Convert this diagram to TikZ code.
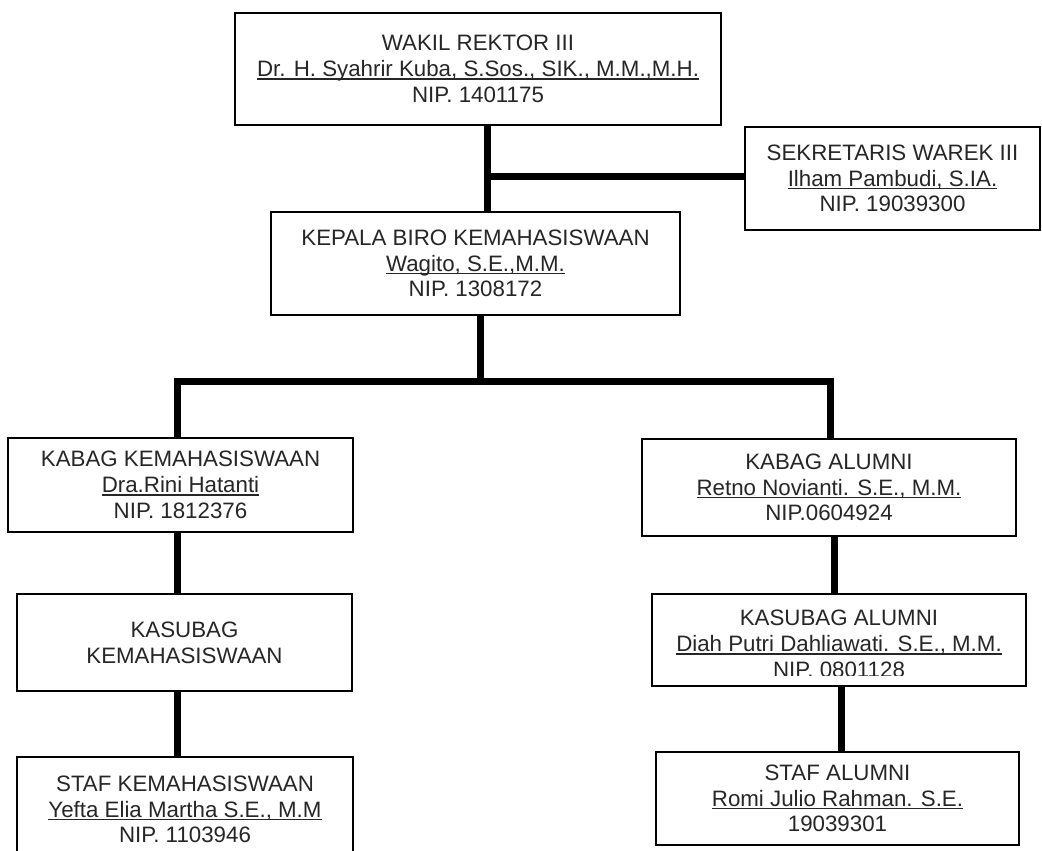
\documentclass[tikz,border=0pt]{standalone}
\usepackage{fontspec}
\setmainfont{Liberation Sans}
\newcommand\uln[1]{\setbox0\hbox{#1}\rlap{\rule[-3.2pt]{\wd0}{1.5pt}}\box0}
\begin{document}
\begin{tikzpicture}[x=1pt,y=-1pt,
  txt/.style={inner sep=0pt, align=center, font=\fontsize{22.3}{25.8}\selectfont, text=black!85},
  box/.style={txt, draw=black, line width=2.4pt, fill=white},
  conn/.style={line width=7pt, line join=miter}]
\useasboundingbox (0,0) rectangle (1042,851);
\fill[white] (0,0) rectangle (1042,851);

\node[box, minimum width=486pt, minimum height=112pt] (b1) at (478,69)
  {WAKIL REKTOR III\\\uln{Dr. H. Syahrir Kuba, S.Sos., SIK., M.M.,M.H.}\\NIP. 1401175};
\node[box, minimum width=295pt, minimum height=103pt] (sek) at (892.5,178.5)
  {SEKRETARIS WAREK III\\\uln{Ilham Pambudi, S.IA.}\\NIP. 19039300};
\node[box, minimum width=409pt, minimum height=103pt] (kep) at (475.5,263.5)
  {KEPALA BIRO KEMAHASISWAAN\\\uln{Wagito, S.E.,M.M.}\\NIP. 1308172};
\node[box, minimum width=345pt, minimum height=94pt] (kabkem) at (180.5,485)
  {KABAG KEMAHASISWAAN\\\uln{Dra.Rini Hatanti}\\NIP. 1812376};
\node[box, minimum width=374pt, minimum height=97pt] (kabal) at (829,487.5)
  {KABAG ALUMNI\\\uln{Retno Novianti. S.E., M.M.}\\NIP.0604924};
\node[box, minimum width=335pt, minimum height=97pt] (kaskem) at (184.5,642.5)
  {KASUBAG\\KEMAHASISWAAN};
\node[box, minimum width=374pt, minimum height=92pt] (kasal) at (839,640) {};
\begin{scope}
  \clip (652,594) rectangle (1026,675);
  \node[txt] (kasaltxt) at (839,644)
    {KASUBAG ALUMNI\\\uln{Diah Putri Dahliawati. S.E., M.M.}\\NIP. 0801128};
\end{scope}
\node[box, minimum width=336pt, minimum height=105pt] (stafkem) at (185,809.5)
  {STAF KEMAHASISWAAN\\\uln{Yefta Elia Martha S.E., M.M}\\NIP. 1103946};
\node[box, minimum width=363pt, minimum height=93pt] (stafal) at (837.5,798.5)
  {STAF ALUMNI\\\uln{Romi Julio Rahman. S.E.}\\19039301};

\coordinate (s1) at (487,0);
\coordinate (j1) at (487,176);
\coordinate (bm) at (480,381);
\coordinate (bl) at (177,381);
\coordinate (br) at (830,381);
\coordinate (r2) at (834,0);
\coordinate (r3) at (841,0);

\draw[conn] (b1.south -| s1) -- (kep.north -| s1);
\draw[conn] (j1) -- (sek.west |- j1);
\draw[conn] (kep.south -| bm) -- (bm);
\draw[conn] (kabkem.north -| bl) -- (bl) -- (br) -- (kabal.north -| br);
\draw[conn] (kabkem.south -| bl) -- (kaskem.north -| bl);
\draw[conn] (kaskem.south -| bl) -- (stafkem.north -| bl);
\draw[conn] (kabal.south -| r2) -- (kasal.north -| r2);
\draw[conn] (kasal.south -| r3) -- (stafal.north -| r3);
\end{tikzpicture}
\end{document}
